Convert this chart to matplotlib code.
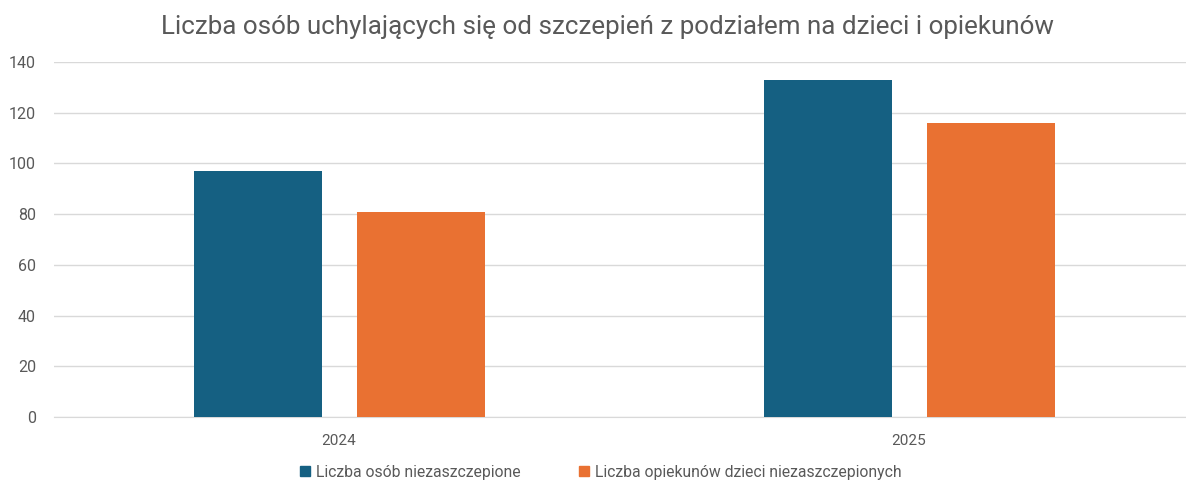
import numpy as np
import matplotlib.pyplot as plt
from matplotlib.lines import Line2D

plt.rcParams['font.family'] = ['Roboto', 'DejaVu Sans']

# DANE

lata = ['2024', '2025']
osoby = [97, 133]
opiekunowie = [81, 116]
etykiety = ['Liczba osób niezaszczepione', 'Liczba opiekunów dzieci niezaszczepionych']

kolory = ['#156082', '#E97132']
szary = '#595959'

# WYKRES

fig = plt.figure(figsize=(11.86, 4.82), dpi=100)
ax = fig.add_axes([54 / 1186, 1 - 417 / 482, 1140 / 1186, 355 / 482])

x = np.arange(len(lata))
szer = 0.224

ax.bar(x - 0.142, osoby, szer, color=kolory[0], zorder=3)
ax.bar(x + 0.144, opiekunowie, szer, color=kolory[1], zorder=3)

ax.set_xlim(-0.5, 1.5)
ax.set_ylim(0, 140)
ax.set_yticks(range(0, 141, 20))
ax.set_xticks(x)
ax.set_xticklabels(lata)

ax.grid(axis='y', color='#D9D9D9', linewidth=1, zorder=0)
for s in ['top', 'right', 'left']:
    ax.spines[s].set_visible(False)
ax.spines['bottom'].set_color('#D9D9D9')
ax.tick_params(axis='both', length=0, colors=szary)
ax.tick_params(axis='x', pad=12, labelsize=11)
ax.tick_params(axis='y', pad=13, labelsize=11.5)

fig.text(607 / 1186, 1 - 27 / 482, 'Liczba osób uchylających się od szczepień z podziałem na dzieci i opiekunów',
         ha='center', va='center', fontsize=18.7, color=szary)

uchwyty = [Line2D([0], [0], marker='s', linestyle='', color=c, markersize=7) for c in kolory]
fig.legend(uchwyty, etykiety, loc='center', bbox_to_anchor=(600 / 1186, 1 - 472 / 482),
           ncol=2, frameon=False, fontsize=11.3, labelcolor=szary,
           handletextpad=0.3, columnspacing=3.6, handlelength=0.8)

plt.savefig('out.png', dpi=100)
